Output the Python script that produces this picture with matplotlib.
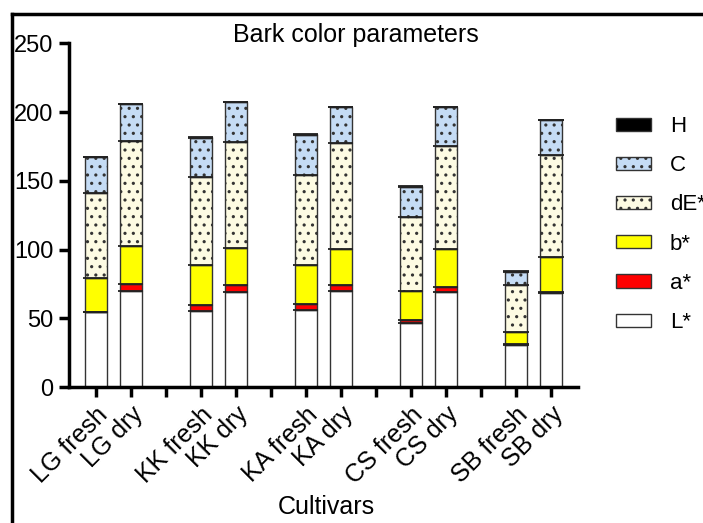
import matplotlib
matplotlib.use("Agg")
import matplotlib.pyplot as plt
from matplotlib.patches import Patch
from matplotlib.lines import Line2D
import numpy as np

plt.rcParams['font.family'] = ['Liberation Sans', 'DejaVu Sans']
plt.rcParams['hatch.linewidth'] = 1.1

# samples (blank entries are the gaps between cultivars)
samples = ["LG fresh", "LG dry", "", "KK fresh", "KK dry", "",
           "KA fresh", "KA dry", "", "CS fresh", "CS dry", "",
           "SB fresh", "SB dry"]

# stacked components, one value per non-gap sample
L_star = [54.7, 70.2, 55.4, 69.4, 56.1, 70.2, 46.3, 69.0, 30.8, 68.5]
a_star = [0.0, 4.9, 4.2, 4.5, 4.5, 3.7, 2.2, 3.7, 0.3, 0.3]
b_star = [24.6, 27.6, 29.0, 27.1, 28.5, 26.3, 21.7, 27.5, 8.6, 25.8]
dE_star = [61.7, 76.3, 64.1, 77.5, 64.8, 77.1, 53.4, 75.1, 34.5, 73.9]
C_val = [26.4, 26.6, 28.3, 28.8, 29.5, 26.3, 22.2, 28.3, 9.8, 25.8]
H_val = [0.3, 0.3, 1.2, 0.3, 1.0, 0.3, 0.5, 0.3, 0.3, 0.3]

series = [
    ("L*", L_star, "white", None),
    ("a*", a_star, "#ff0000", None),
    ("b*", b_star, "#ffff00", None),
    ("dE*", dE_star, "#fdfbe3", ".."),
    ("C", C_val, "#c5dcf5", ".."),
    ("H", H_val, "black", None),
]

# x positions of real bars (skip the gap slots)
xpos = np.array([i for i, s in enumerate(samples) if s != ""])
bar_w = 0.64

fig = plt.figure(figsize=(7.03, 5.23), dpi=100)
ax = fig.add_axes([0.098, 0.26, 0.724, 0.657])

bottom = np.zeros(len(xpos))
handles = []
for name, vals, color, hatch in series:
    vals = np.array(vals)
    ax.bar(xpos, vals, bottom=bottom, width=bar_w, color=color,
           edgecolor="#333333", linewidth=1.0, hatch=hatch, zorder=2)
    bottom += vals
    # segment boundary lines, a touch wider than the bars
    ax.hlines(bottom, xpos - bar_w / 2 - 0.04, xpos + bar_w / 2 + 0.04,
              color="#222222", linewidth=1.3, zorder=3)
    handles.append(Patch(facecolor=color, edgecolor="#333333",
                         linewidth=1.0, hatch=hatch, label=name))

ax.set_ylim(0, 250)
ax.set_xlim(-0.77, 13.77)
ax.set_yticks([0, 50, 100, 150, 200, 250])
ax.set_xticks(range(len(samples)))
ax.set_xticklabels(samples, rotation=45, ha="right", rotation_mode="anchor")

ax.spines["top"].set_visible(False)
ax.spines["right"].set_visible(False)
ax.spines["left"].set_linewidth(2.5)
ax.spines["bottom"].set_linewidth(2.5)
ax.tick_params(axis="both", width=2.5, length=7, colors="black")
ax.tick_params(axis="x", pad=4, labelsize=18)
ax.tick_params(axis="y", pad=4, labelsize=17)

fig.text(356 / 703, 1 - 35 / 523, "Bark color parameters", fontsize=18,
         ha="center", va="center")
fig.text(326 / 703, 1 - 507 / 523, "Cultivars", fontsize=18,
         ha="center", va="center")

ax.legend(handles=handles[::-1], loc="upper left",
          bbox_to_anchor=(616 / 703, 1 - 116 / 523),
          bbox_transform=fig.transFigure, frameon=False, fontsize=16,
          handlelength=1.57, handleheight=0.53, labelspacing=0.82,
          handletextpad=0.85, borderaxespad=0, borderpad=0)

# frame lines at top and left of figure
fig.add_artist(Line2D([12 / 703, 1], [1 - 14 / 523, 1 - 14 / 523],
                      transform=fig.transFigure, color="black", linewidth=2.5))
fig.add_artist(Line2D([12 / 703, 12 / 703], [0, 1 - 14 / 523],
                      transform=fig.transFigure, color="black", linewidth=2.5))

fig.savefig("out.png", dpi=100)
